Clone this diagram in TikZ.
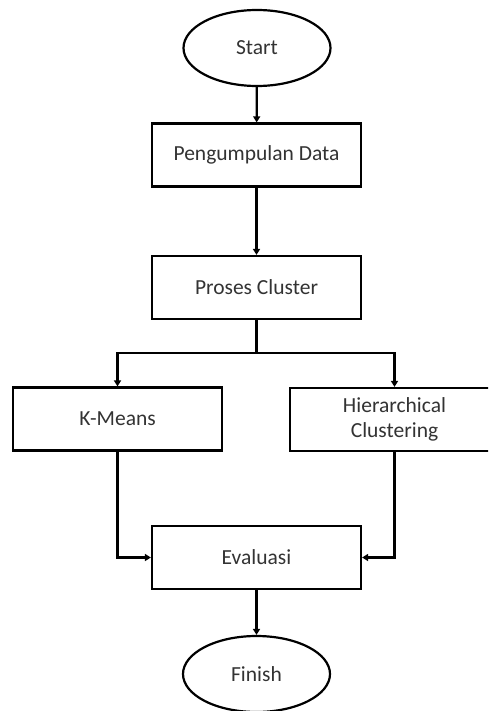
\documentclass[tikz,border=0pt]{standalone}
\usepackage{fontspec}
\setmainfont{Carlito}
\usetikzlibrary{arrows.meta,shapes.geometric}
\begin{document}
\begin{tikzpicture}[x=1pt,y=-1pt,
  box/.style={draw=black,line width=2.2pt,minimum width=209pt,minimum height=63pt,inner sep=0pt,align=center,text=black!80,font=\fontsize{21.5}{25}\selectfont},
  term/.style={draw=black,line width=2.2pt,ellipse,minimum width=147pt,minimum height=76pt,inner sep=0pt,text=black!80,font=\fontsize{21.5}{25}\selectfont},
  arr/.style={line width=2.2pt,-{Triangle[length=6pt,width=7pt]}},
  ln/.style={line width=2.2pt}]
\useasboundingbox (0,0) rectangle (488,711);
\clip (0,0) rectangle (488,711);
\fill[white] (0,0) rectangle (488,711);
\node[term] (start) at (257,48) {Start};
\node[box] (peng) at (256.5,155) {Pengumpulan Data};
\node[box] (proses) at (256.5,287.5) {Proses Cluster};
\node[box] (kmeans) at (117.5,419) {K-Means};
\node[box] (hier) at (394.5,419.5) {Hierarchical\\Clustering};
\node[box] (eval) at (256.5,557.5) {Evaluasi};
\node[term] (finish) at (256.5,674) {Finish};
\coordinate (split) at (256.5,353);
\draw[arr] (start) -- (peng);
\draw[arr] (peng) -- (proses);
\draw[ln] (proses) -- (split);
\draw[arr] (split) -| (kmeans);
\draw[arr] (split) -| (hier);
\draw[arr] (kmeans) |- (eval);
\draw[arr] (hier) |- (eval);
\draw[arr] (eval) -- (finish);
\end{tikzpicture}
\end{document}
